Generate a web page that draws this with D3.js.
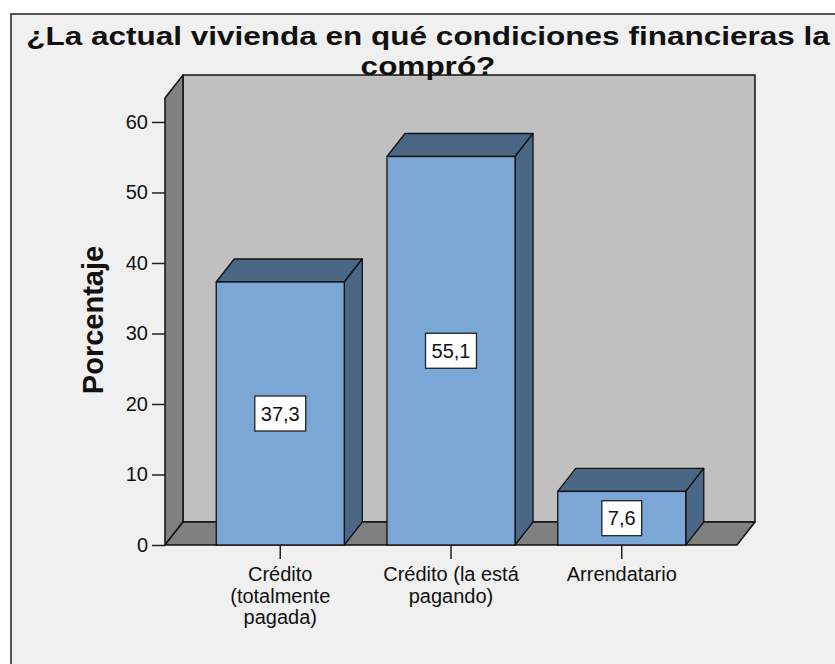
<!DOCTYPE html>
<html>
<head>
<meta charset="utf-8">
<script src="https://cdn.jsdelivr.net/npm/d3@7/dist/d3.min.js"></script>
<style>
  html, body { margin: 0; padding: 0; background: #ffffff; }
  svg { display: block; }
  text { font-family: Arial, "Liberation Sans", sans-serif; fill: #111; }
</style>
</head>
<body>
<svg id="chart" width="835" height="664"></svg>
<script>
// Survey result: how the current home was acquired (percent of respondents)
const titleLines = ["¿La actual vivienda en qué condiciones financieras la", "compró?"];
const categories = ["Crédito\n(totalmente\npagada)", "Crédito (la está\npagando)", "Arrendatario"];
const values = [37.3, 55.1, 7.6];
const yTicks = [0, 10, 20, 30, 40, 50, 60];
const yLabel = "Porcentaje";

(function () {
const svg = d3.select("#chart");

// 3D look: depth offset for walls and bars
const depthX = 18, depthY = -23;

// plot frame (front plane)
const plotLeft = 165, plotRight = 737, plotBottom = 545, plotTop = 98;

const x = d3.scaleBand()
  .domain(categories)
  .range([plotLeft, plotRight])
  .paddingInner(0.25)
  .paddingOuter(0.3);

const y = d3.scaleLinear()
  .domain([0, 63.4])
  .range([plotBottom, plotTop]);

const fmt = v => d3.format(".1f")(v).replace(".", ",");

// chart panel background with border
svg.append("rect")
  .attr("x", 11).attr("y", 14)
  .attr("width", 900).attr("height", 700)
  .attr("fill", "#f0f0f0")
  .attr("stroke", "#555")
  .attr("stroke-width", 2);

const pts = a => a.map(p => p.join(",")).join(" ");

// back wall
svg.append("polygon")
  .attr("points", pts([[plotLeft + depthX, plotTop + depthY], [plotRight + depthX, plotTop + depthY],
                       [plotRight + depthX, plotBottom + depthY], [plotLeft + depthX, plotBottom + depthY]]))
  .attr("fill", "#c0c0c0")
  .attr("stroke", "#111").attr("stroke-width", 1.5).attr("stroke-linejoin", "round");

// left side wall
svg.append("polygon")
  .attr("points", pts([[plotLeft, plotBottom], [plotLeft, plotTop], [plotLeft + depthX, plotTop + depthY], [plotLeft + depthX, plotBottom + depthY]]))
  .attr("fill", "#808080")
  .attr("stroke", "#111").attr("stroke-width", 1.5).attr("stroke-linejoin", "round");

// floor
svg.append("polygon")
  .attr("points", pts([[plotLeft, plotBottom], [plotRight, plotBottom], [plotRight + depthX, plotBottom + depthY], [plotLeft + depthX, plotBottom + depthY]]))
  .attr("fill", "#808080")
  .attr("stroke", "#111").attr("stroke-width", 1.5).attr("stroke-linejoin", "round");

// bars: top face, right side face, front face
const bars = svg.append("g").selectAll("g")
  .data(values.map((v, i) => ({ v, c: categories[i] })))
  .join("g");

bars.append("polygon")
  .attr("points", d => {
    const x0 = x(d.c), x1 = x(d.c) + x.bandwidth(), yt = y(d.v);
    return pts([[x0, yt], [x1, yt], [x1 + depthX, yt + depthY], [x0 + depthX, yt + depthY]]);
  })
  .attr("fill", "#4a6786")
  .attr("stroke", "#111").attr("stroke-width", 1.3).attr("stroke-linejoin", "round");

bars.append("polygon")
  .attr("points", d => {
    const x1 = x(d.c) + x.bandwidth(), yt = y(d.v), yb = y(0);
    return pts([[x1, yt], [x1 + depthX, yt + depthY], [x1 + depthX, yb + depthY], [x1, yb]]);
  })
  .attr("fill", "#4a6786")
  .attr("stroke", "#111").attr("stroke-width", 1.3).attr("stroke-linejoin", "round");

bars.append("rect")
  .attr("x", d => x(d.c))
  .attr("y", d => y(d.v))
  .attr("width", x.bandwidth())
  .attr("height", d => y(0) - y(d.v))
  .attr("fill", "#7aa7d5")
  .attr("stroke", "#111").attr("stroke-width", 1.3);

// value labels in white boxes at the middle of each bar
const lab = bars.append("g")
  .attr("transform", d => `translate(${x(d.c) + x.bandwidth() / 2},${(y(d.v) + y(0)) / 2})`);
lab.append("text")
  .attr("text-anchor", "middle")
  .attr("dy", "0.36em")
  .attr("font-size", 20)
  .text(d => fmt(d.v));
lab.each(function () {
  const g = d3.select(this);
  const t = g.select("text");
  const w = t.node().getComputedTextLength();
  g.insert("rect", "text")
    .attr("x", -w / 2 - 6).attr("y", -17.5)
    .attr("width", w + 12).attr("height", 35)
    .attr("fill", "#ffffff")
    .attr("stroke", "#222").attr("stroke-width", 1.3);
});

// y axis
const yAxis = svg.append("g")
  .attr("transform", `translate(${plotLeft},0)`)
  .call(d3.axisLeft(y).tickValues(yTicks).tickSize(13).tickPadding(4).tickFormat(d3.format("d")));
yAxis.select(".domain").remove();
yAxis.selectAll(".tick line").attr("stroke", "#222").attr("stroke-width", 1.5);
yAxis.selectAll(".tick text").attr("font-size", 20).attr("fill", "#222")
  .style("font-family", "Arial, 'Liberation Sans', sans-serif");

// x axis ticks and wrapped category labels
const xAxis = svg.append("g")
  .attr("transform", `translate(0,${plotBottom})`)
  .call(d3.axisBottom(x).tickSize(14).tickFormat(""));
xAxis.select(".domain").remove();
xAxis.selectAll(".tick line").attr("stroke", "#222").attr("stroke-width", 1.5);
xAxis.selectAll(".tick").append("text")
  .attr("text-anchor", "middle")
  .attr("font-size", 20)
  .attr("fill", "#222")
  .style("font-family", "Arial, 'Liberation Sans', sans-serif")
  .selectAll("tspan")
  .data(d => d.split("\n"))
  .join("tspan")
  .attr("x", 0)
  .attr("y", (d, i) => 36 + i * 21.5)
  .text(d => d);

// y axis title
svg.append("text")
  .attr("transform", "translate(103,320) rotate(-90)")
  .attr("text-anchor", "middle")
  .attr("font-size", 29)
  .attr("font-weight", "bold")
  .text(yLabel);

// chart title: wide bold lettering, stretched horizontally
const titleSize = 25, titleStretch = 1.26;
svg.append("g").selectAll("text")
  .data(titleLines)
  .join("text")
  .attr("x", 428)
  .attr("y", (d, i) => 45 + i * 29.5)
  .attr("text-anchor", "middle")
  .attr("font-size", titleSize)
  .attr("font-weight", "bold")
  .text(d => d)
  .each(function () {
    const w = this.getComputedTextLength();
    d3.select(this)
      .attr("textLength", w * titleStretch)
      .attr("lengthAdjust", "spacingAndGlyphs");
  });
})();
</script>
</body>
</html>
